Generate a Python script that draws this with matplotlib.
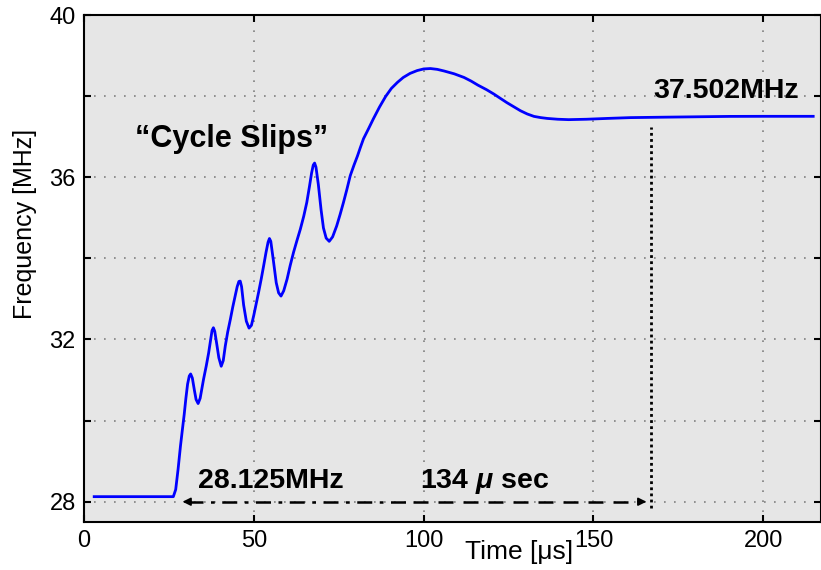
import matplotlib

matplotlib.use("Agg")
import matplotlib.pyplot as plt
from matplotlib.ticker import FixedLocator, FuncFormatter

plt.rcParams["font.family"] = ["Liberation Sans", "DejaVu Sans"]
plt.rcParams["mathtext.fontset"] = "custom"
plt.rcParams["mathtext.it"] = "Liberation Sans:italic:bold"
plt.rcParams["mathtext.rm"] = "Liberation Sans:bold"

# PLL lock transient: VCO frequency vs time
time_us = [3, 26.3, 27.0, 27.7, 28.4, 29.0, 29.5, 30.0, 30.5, 31.0, 31.4,
           31.9, 32.5, 33.0, 33.6, 34.2, 35.2, 36.0, 36.7, 37.3, 37.7, 38.1,
           38.5, 39.1, 39.7, 40.4, 41.0, 41.6, 42.3, 43.1, 43.8, 44.5, 45.1,
           45.6, 46.0, 46.4, 47.0, 47.8, 48.6, 49.3, 50.0, 50.7, 51.4, 52.2,
           52.9, 53.6, 54.2, 54.6, 55.0, 55.8, 56.6, 57.3, 58.0, 58.8, 59.8,
           60.7, 61.7, 62.7, 63.7, 64.7, 65.6, 66.4, 67.0, 67.5, 67.9, 68.3,
           69.0, 69.8, 70.5, 71.3, 72.2, 73.2, 74.4, 75.4, 76.4, 77.4, 78.4,
           79.5, 80.5, 81.4, 82.3, 83.8, 85.2, 87.0, 88.8, 90.5, 92.3, 94,
           96, 98.1, 100, 102, 104, 106, 109, 111.9, 114, 116, 118.5, 120.7,
           122.5, 124.5, 126.5, 128.5, 130.5, 132.5, 134.5, 136.4, 139.5,
           142.7, 148, 154, 160.9, 170, 180, 190, 200, 214.7]
freq_mhz = [28.125, 28.125, 28.3, 28.8, 29.37, 29.8, 30.15, 30.55, 30.9,
            31.1, 31.15, 31.05, 30.75, 30.52, 30.42, 30.55, 31.02, 31.35,
            31.67, 32.0, 32.22, 32.29, 32.2, 31.88, 31.55, 31.34, 31.48,
            31.84, 32.18, 32.5, 32.8, 33.07, 33.3, 33.43, 33.44, 33.3, 32.85,
            32.45, 32.28, 32.35, 32.6, 32.88, 33.16, 33.5, 33.82, 34.15,
            34.4, 34.49, 34.42, 33.92, 33.4, 33.15, 33.07, 33.2, 33.49,
            33.82, 34.15, 34.44, 34.72, 35.04, 35.38, 35.78, 36.1, 36.3,
            36.35, 36.25, 35.82, 35.2, 34.75, 34.5, 34.42, 34.53, 34.8,
            35.08, 35.38, 35.7, 36.04, 36.3, 36.52, 36.74, 36.95, 37.2,
            37.44, 37.73, 37.99, 38.19, 38.34, 38.46, 38.56, 38.63, 38.67,
            38.68, 38.66, 38.62, 38.55, 38.46, 38.37, 38.27, 38.16, 38.05,
            37.95, 37.84, 37.74, 37.64, 37.56, 37.5, 37.47, 37.45, 37.43,
            37.42, 37.43, 37.45, 37.47, 37.48, 37.49, 37.5, 37.502, 37.502]

start_freq = 28.125
final_freq = 37.502
lock_start = 29
lock_end = 165.6
lock_marker = 167
marker_top = 37.23

x_ticks = [0, 50, 100, 150, 200]
y_ticks = [28, 30, 32, 34, 36, 38, 40]
y_labeled = [28, 32, 36, 40]

fig = plt.figure(figsize=(8.21, 5.70), dpi=100)
ax = fig.add_axes([84 / 821, 48 / 570, 737 / 821, 507 / 570])
ax.set_facecolor("#e6e6e6")

ax.plot(time_us, freq_mhz, color="#0000ff", lw=2.0, zorder=3)

# lock-time marker and arrows
ax.plot([lock_marker, lock_marker], [27.85, marker_top], color="black",
        lw=2.0, ls=(0, (1, 1.2)), zorder=2)
ax.plot([lock_start + 1.5, 97], [28, 28], color="black",
        lw=1.8, ls=(0, (6, 3, 1.5, 3)), zorder=2)
ax.plot([97, lock_end - 1.5], [28, 28], color="black",
        lw=1.8, ls=(0, (6, 4)), zorder=2)
for tip, tail in [(lock_start, lock_start + 2.5), (lock_end, lock_end - 2.5)]:
    ax.annotate("", xy=(tip, 28), xytext=(tail, 28),
                arrowprops=dict(arrowstyle="-|>", color="black", lw=1.2,
                                mutation_scale=12, shrinkA=0, shrinkB=0))

bold = dict(fontweight="bold", va="center", ha="left", color="black")
ax.text(15.1, 36.95, "\u201cCycle Slips\u201d", fontsize=22, **bold)
ax.text(167.5, 38.12, f"{final_freq:.3f}MHz", fontsize=20.5, **bold)
ax.text(33.7, 28.5, f"{start_freq:.3f}MHz", fontsize=20.5, **bold)
ax.text(99, 28.5, r"134 $\mu$ sec", fontsize=20.5, **bold)

ax.set_xlim(0, 217)
ax.set_ylim(27.5, 40)
ax.xaxis.set_major_locator(FixedLocator(x_ticks))
ax.yaxis.set_major_locator(FixedLocator(y_ticks))
ax.yaxis.set_major_formatter(FuncFormatter(
    lambda v, _: f"{v:g}" if round(v) in y_labeled else ""))
ax.tick_params(direction="in", length=5, width=1.5, top=True, right=True,
               labelsize=17, pad=6, colors="black")
ax.grid(True, color="#808080", ls=(0, (1, 5)), lw=1.2)
for sp in ax.spines.values():
    sp.set_linewidth(1.5)
    sp.set_color("black")

ax.set_xlabel("Time [\u03bcs]", fontsize=19)
ax.xaxis.set_label_coords(0.59, -0.035)
ax.set_ylabel("Frequency [MHz]", fontsize=18)
ax.yaxis.set_label_coords(-0.064, 0.588)

fig.savefig("out.png", dpi=100)
